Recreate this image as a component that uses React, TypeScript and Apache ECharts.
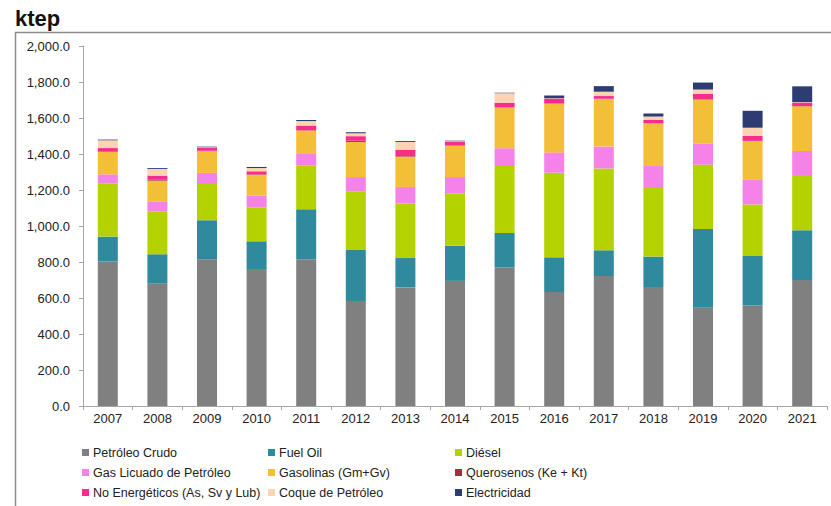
import React, { useEffect, useRef } from "react";
import * as echarts from "echarts";

const years = ["2007", "2008", "2009", "2010", "2011", "2012", "2013", "2014", "2015", "2016", "2017", "2018", "2019", "2020", "2021"];
const crudo = [802, 680, 815, 761, 815, 583, 659, 695, 770, 633, 722, 661, 546, 559, 700];
const fuelOil = [139, 163, 217, 154, 278, 287, 163, 196, 191, 193, 143, 169, 437, 274, 276];
const diesel = [294, 237, 207, 189, 242, 321, 302, 291, 372, 470, 455, 381, 358, 287, 302];
const glp = [52, 57, 56, 65, 65, 81, 93, 90, 99, 113, 121, 122, 118, 136, 139];
const gasolinas = [124, 115, 122, 116, 130, 195, 168, 174, 227, 271, 265, 237, 243, 216, 248];
const querosenos = [2, 7, 1, 3, 2, 7, 3, 1, 1, 1, 1, 1, 1, 1, 1];
const noEnergeticos = [20, 21, 19, 16, 26, 25, 36, 23, 25, 27, 15, 18, 32, 27, 19];
const coque = [43, 37, 2, 18, 25, 16, 43, 2, 52, 2, 24, 19, 23, 46, 3];
const electricidad = [4, 5, 2, 6, 6, 6, 5, 2, 3, 15, 31, 17, 39, 94, 88];

const seriesDefs = [
  { name: "Petróleo Crudo", data: crudo, color: "#808080" },
  { name: "Fuel Oil", data: fuelOil, color: "#2E8A9C" },
  { name: "Diésel", data: diesel, color: "#B4D100" },
  { name: "Gas Licuado de Petróleo", data: glp, color: "#F582E6" },
  { name: "Gasolinas (Gm+Gv)", data: gasolinas, color: "#F4BF38" },
  { name: "Querosenos (Ke + Kt)", data: querosenos, color: "#A3303A" },
  { name: "No Energéticos (As, Sv y Lub)", data: noEnergeticos, color: "#F72D8E" },
  { name: "Coque de Petróleo", data: coque, color: "#FDD4B2" },
  { name: "Electricidad", data: electricidad, color: "#2D3D74" },
];

const legendCols = [
  ["Petróleo Crudo", "Gas Licuado de Petróleo", "No Energéticos (As, Sv y Lub)"],
  ["Fuel Oil", "Gasolinas (Gm+Gv)", "Coque de Petróleo"],
  ["Diésel", "Querosenos (Ke + Kt)", "Electricidad"],
];
const legendLefts = [82, 268, 455];

const FONT = 'Arial, "Liberation Sans", sans-serif';

export default function App() {
  const ref = useRef<HTMLDivElement>(null);
  useEffect(() => {
    document.body.style.margin = "0";
    if (!ref.current) return;
    const chart = echarts.init(ref.current, null, { renderer: "svg" });
    chart.setOption({
      animation: false,
      textStyle: { fontFamily: FONT },
      graphic: [
        {
          type: "text",
          left: 15,
          top: 7,
          style: { text: "ktep", font: `bold 22px ${FONT}`, fill: "#111" },
        },
        {
          type: "line",
          shape: { x1: 15, y1: 32.5, x2: 831, y2: 32.5 },
          style: { stroke: "#8c8c8c", lineWidth: 1.5 },
        },
        {
          type: "line",
          shape: { x1: 15.5, y1: 32, x2: 15.5, y2: 506 },
          style: { stroke: "#8c8c8c", lineWidth: 1.5 },
        },
      ],
      legend: legendCols.map((col, i) => ({
        orient: "vertical",
        left: legendLefts[i],
        top: 446,
        padding: 0,
        itemGap: 7,
        itemWidth: 7,
        itemHeight: 7,
        icon: "rect",
        data: col,
        textStyle: { fontSize: 12.5, color: "#222", fontFamily: FONT, padding: [0, 0, 0, -1] },
      })),
      grid: { left: 83, right: 4, top: 46, bottom: 100, containLabel: false },
      xAxis: {
        type: "category",
        data: years,
        axisLine: { lineStyle: { color: "#a6a6a6" } },
        axisTick: { show: true, alignWithLabel: false, length: 4, lineStyle: { color: "#a6a6a6" } },
        axisLabel: { fontSize: 13, color: "#222", margin: 6, fontFamily: FONT },
      },
      yAxis: {
        type: "value",
        min: 0,
        max: 2000,
        interval: 200,
        axisLine: { show: true, lineStyle: { color: "#a6a6a6" } },
        axisTick: { show: true, length: 4, lineStyle: { color: "#a6a6a6" } },
        splitLine: { show: false },
        axisLabel: {
          fontSize: 13,
          color: "#222",
          margin: 13,
          fontFamily: FONT,
          formatter: (v: number) =>
            v.toLocaleString("en-US", { minimumFractionDigits: 1, maximumFractionDigits: 1 }),
        },
      },
      series: seriesDefs.map((s) => ({
        type: "bar",
        name: s.name,
        stack: "total",
        data: s.data,
        barWidth: 20,
        itemStyle: { color: s.color },
      })),
    });
    return () => chart.dispose();
  }, []);
  return <div ref={ref} style={{ width: 831, height: 506 }} />;
}
